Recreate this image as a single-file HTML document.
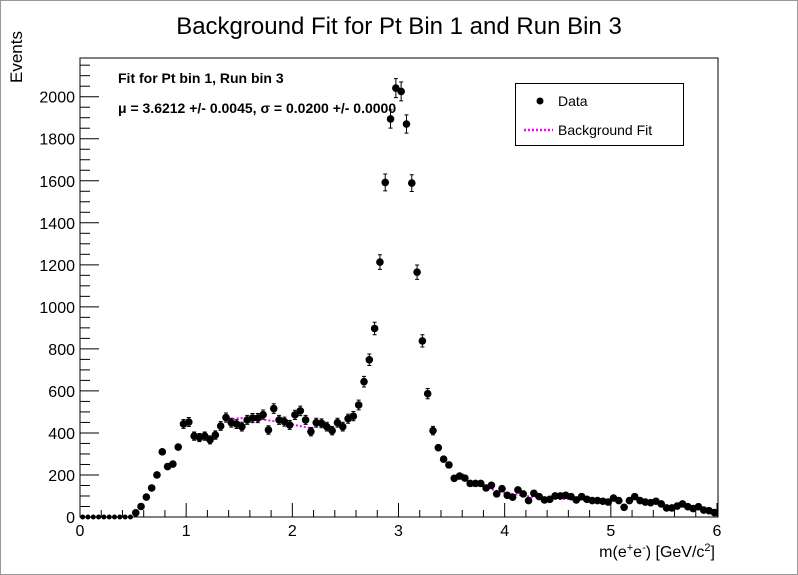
<!DOCTYPE html>
<html><head><meta charset="utf-8">
<style>
html,body{margin:0;padding:0;background:#fff;}
svg{display:block;font-family:"Liberation Sans",Arial,sans-serif;}
</style></head>
<body>
<svg id="chart" width="798" height="575" viewBox="0 0 798 575" xmlns="http://www.w3.org/2000/svg">
<rect x="0.5" y="0.5" width="797" height="574" fill="#fff" stroke="#999"/>
<text x="399" y="34" font-size="24" text-anchor="middle">Background Fit for Pt Bin 1 and Run Bin 3</text>
<g id="plot"></g>
<text x="118" y="83" font-size="14" font-weight="bold">Fit for Pt bin 1, Run bin 3</text>
<text x="118" y="113" font-size="14" font-weight="bold">μ = 3.6212 +/- 0.0045, σ = 0.0200 +/- 0.0000</text>
<text transform="translate(22,83) rotate(-90)" font-size="17">Events</text>
<text x="715" y="557" font-size="16" text-anchor="end">m(e<tspan baseline-shift="super" font-size="11">+</tspan>e<tspan baseline-shift="super" font-size="11">-</tspan>) [GeV/c<tspan baseline-shift="super" font-size="11">2</tspan>]</text>
<g>
<rect x="515.5" y="83.5" width="168" height="62" fill="#fff" stroke="#000"/>
<circle cx="540" cy="101" r="3.5" fill="#000"/>
<text x="558" y="106" font-size="14">Data</text>
<line x1="524" y1="130" x2="553" y2="130" stroke="#f0f" stroke-width="2.5" stroke-dasharray="2,2"/>
<text x="558" y="135" font-size="14">Background Fit</text>
</g>
</svg>
<script>
const massBins = [];
const counts = [0,0,0,0,0,0,0,0,0,0,20,50,95,138,200,310,240,252,333,443,452,385,378,385,367,390,433,473,449,442,430,462,471,471,487,414,516,462,454,438,486,505,462,406,449,446,430,411,449,430,468,480,533,644,748,897,1213,1592,1894,2041,2025,1870,1589,1165,838,587,411,330,275,248,184,195,185,160,160,160,138,151,110,135,103,94,129,110,78,113,97,81,84,100,100,103,97,81,97,84,78,78,75,71,90,78,46,78,97,78,71,68,75,62,43,43,52,62,49,40,49,33,30,21];
for (let i=0;i<counts.length;i++) massBins.push(0.025+0.05*i);
const fitLeftX = [1.4,1.5,1.6,1.7,1.8,1.9,2.0,2.1,2.2];
const fitLeftY = [465,470,472,466,458,450,440,430,420];
const fitRightX = [3.6,3.62,3.65,3.7,3.8,3.9,4.0,4.2,4.4,4.6,4.8,5.0];
const fitRightY = [200,205,170,160,145,128,115,100,88,85,78,72];
const xTicks = [0,1,2,3,4,5,6];
const yTicks = [0,200,400,600,800,1000,1200,1400,1600,1800,2000];

const X0=80,X1=718,Y0=517,Y1=58;
const xs = v => X0 + v/6*(717-X0);
const ys = v => Y0 - v*(Y0-96.7)/2000;
const NS="http://www.w3.org/2000/svg";
const plot=document.getElementById('plot');
function mk(tag,attrs){const e=document.createElementNS(NS,tag);for(const k in attrs)e.setAttribute(k,attrs[k]);plot.appendChild(e);return e;}

let fr=mk('rect',{x:X0,y:Y1,width:X1-X0,height:Y0-Y1,fill:'none',stroke:'#000','stroke-width':1});



for(let v=0;v<=6.001;v+=0.2){
  const major=Math.abs(v-Math.round(v))<1e-6;
  const t=mk('line',{x1:xs(v),x2:xs(v),y1:Y0,y2:Y0-(major?14:7),stroke:'#000'});
  
  
}
xTicks.forEach(v=>{
  const t=mk('text',{x:xs(v),y:Y0+19,'font-size':16,'text-anchor':'middle'});t.textContent=v;
  
  
});
for(let v=0;ys(v)>=Y1;v+=50){
  const major=v%200===0;
  const t=mk('line',{x1:X0,x2:X0+(major?19:10),y1:ys(v),y2:ys(v),stroke:'#000'});
  
  
}
yTicks.forEach(v=>{
  const t=mk('text',{x:X0-5,y:ys(v)+6,'font-size':16,'text-anchor':'end'});t.textContent=v;
  
  
});

function fitPath(xa,ya,name){
  const d=xa.map((x,i)=>(i?'L':'M')+xs(x)+','+ys(ya[i])).join(' ');
  const p=mk('path',{d:d,fill:'none',stroke:'#f0f','stroke-width':2,'stroke-dasharray':'2,2'});
  
  
}
fitPath(fitLeftX,fitLeftY,'fit-line-left');
fitPath(fitRightX,fitRightY,'fit-line-right');

counts.forEach((c,i)=>{
  const cx=xs(massBins[i]),cy=ys(c);
  const e=Math.sqrt(c);
  if(e*(Y0-96.7)/2000>4){
    const t=ys(c+e),b=ys(c-e);
    const eb=mk('path',{d:`M${cx},${t}L${cx},${b}M${cx-2},${t}L${cx+2},${t}M${cx-2},${b}L${cx+2},${b}`,stroke:'#000','stroke-width':1,fill:'none'});
    
    
  }
  const m=mk('circle',{cx:cx,cy:cy,r:(c===0?2.5:3.8),fill:'#000'});
  
  
});
</script>
</body></html>
